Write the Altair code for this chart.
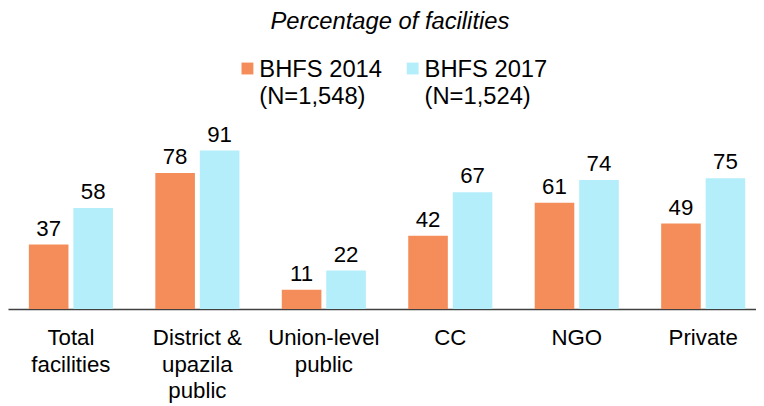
import altair as alt
import pandas as pd

categories = ["Total|facilities", "District &|upazila|public", "Union-level|public", "CC", "NGO", "Private"]
series = ["BHFS 2014|(N=1,548)", "BHFS 2017|(N=1,524)"]
values_2014 = [37, 78, 11, 42, 61, 49]
values_2017 = [58, 91, 22, 67, 74, 75]
colors = ["#F58D5A", "#B4EEFA"]

rows = []
for c, v in zip(categories, values_2014):
    rows.append({"category": c, "survey": series[0], "value": v})
for c, v in zip(categories, values_2017):
    rows.append({"category": c, "survey": series[1], "value": v})
df = pd.DataFrame(rows)

FONT = "Liberation Sans"

x = alt.X(
    "category:N",
    sort=categories,
    scale=alt.Scale(paddingInner=0.335, paddingOuter=0.125, align=0.66, round=False),
    axis=alt.Axis(
        title=None,
        labelAngle=0,
        ticks=False,
        domain=True,
        domainColor="#404040",
        domainWidth=1.5,
        labelPadding=18,
        labelFont=FONT,
        labelFontSize=22.5,
        labelColor="#000000",
        labelLineHeight=27,
        labelBaseline="top",
        labelExpr="split(datum.label, '|')",
    ),
)
xoff = alt.XOffset("survey:N", sort=series, scale=alt.Scale(paddingInner=0.11, paddingOuter=0, round=False))
y = alt.Y("value:Q", scale=alt.Scale(domain=[0, 100]), axis=None)

bars = alt.Chart(df).mark_bar().encode(
    x=x,
    xOffset=xoff,
    y=y,
    color=alt.Color(
        "survey:N",
        sort=series,
        scale=alt.Scale(domain=series, range=colors),
        legend=alt.Legend(
            title=None,
            orient="none",
            legendX=230,
            legendY=-89,
            direction="horizontal",
            columns=2,
            columnPadding=18,
            symbolType="M-1,0.67H1V2.67H-1Z",
            symbolSize=144,
            symbolStrokeWidth=0,
            labelOffset=0,
            labelFont=FONT,
            labelFontSize=24,
            labelColor="#000000",
            labelBaseline="top",
            labelExpr="split(datum.label, '|')",
            labelLimit=300,
            padding=0,
        ),
    ),
)

labels = alt.Chart(df).mark_text(
    baseline="alphabetic", dy=-9, font=FONT, fontSize=22.5, color="#000000"
).encode(
    x=x,
    xOffset=xoff,
    y=y,
    text=alt.Text("value:Q"),
)

chart = (
    alt.layer(bars, labels)
    .properties(
        width=756,
        height=176,
        title=alt.TitleParams(
            "Percentage of facilities",
            font=FONT,
            fontSize=24,
            fontStyle="italic",
            fontWeight="normal",
            color="#000000",
            anchor="middle",
            offset=13,
            dx=8,
        ),
        autosize=alt.AutoSizeParams(type="none"),
        padding={"left": 0, "top": 126, "right": 0, "bottom": 96},
    )
    .configure(style={"guide-label": {"lineHeight": 27}})
    .configure_view(stroke=None)
)

chart.save("out.html", embed_options={"renderer": "svg", "actions": False})
